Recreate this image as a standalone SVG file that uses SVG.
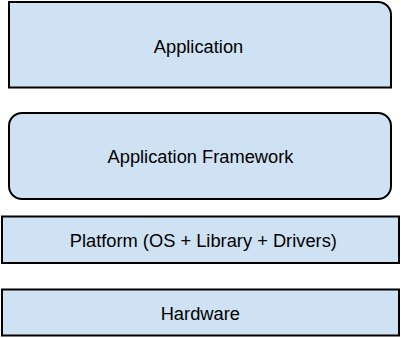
<svg xmlns="http://www.w3.org/2000/svg" width="401" height="338" viewBox="0 0 401 338">
<style>
.box{fill:#cfe2f3;stroke:#000;stroke-width:2}
.lbl{font-family:"Liberation Sans",Arial,sans-serif;font-size:18.3px;fill:#000;text-anchor:middle}
</style>
<rect width="401" height="338" fill="#fff"/>
<g id="connectors"></g>
<g id="application">
<path class="box" d="M9,2 H378 A13,13 0 0 1 391,15 V87.5 H9 Z"/>
<text class="lbl" x="198.5" y="52.5">Application</text>
</g>
<g id="framework">
<rect class="box" x="9" y="113" width="382" height="86" rx="13" ry="13"/>
<text class="lbl" x="200.5" y="163">Application Framework</text>
</g>
<g id="platform">
<rect class="box" x="2" y="216.5" width="397" height="46.5"/>
<text class="lbl" x="203.3" y="247">Platform (OS + Library + Drivers)</text>
</g>
<g id="hardware">
<rect class="box" x="2" y="289.5" width="397" height="46"/>
<text class="lbl" x="200.3" y="319.5">Hardware</text>
</g>
</svg>
